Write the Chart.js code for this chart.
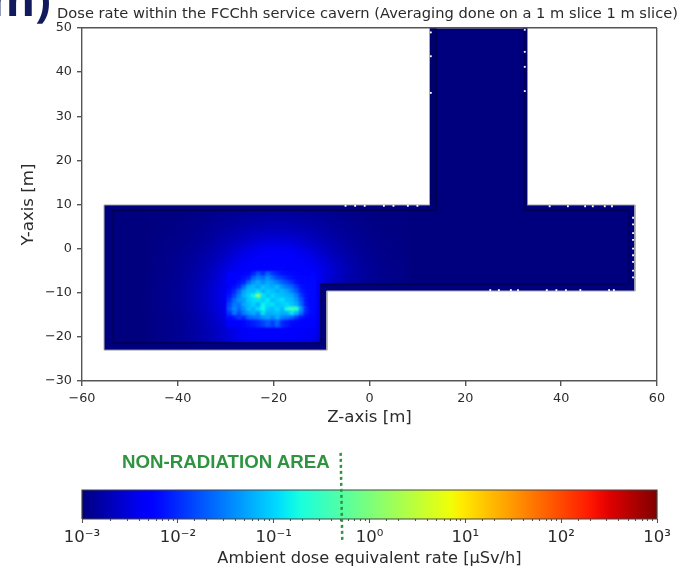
<!DOCTYPE html>
<html>
<head>
<meta charset="utf-8">
<title>Dose rate within the FCChh service cavern</title>
<script src="https://cdn.jsdelivr.net/npm/chart.js@4"></script>
<style>
  html, body { margin: 0; padding: 0; background: #fff; width: 689px; height: 571px; overflow: hidden; }
  #wrap { position: relative; width: 689px; height: 571px; overflow: hidden; }
  canvas, #wrap div { filter: blur(0.4px); }
  #doseChart { position: absolute; left: 0; top: 0; }
  #barChart { position: absolute; left: 0; top: 440px; }
  #slideTitle { position: absolute; left: -10px; top: -33px; font: bold 46px "Open Sans", sans-serif; color: #101a5c; white-space: nowrap; }
  #plotTitle { position: absolute; left: 0; width: 735px; top: 4px; text-align: center; font: 14.65px "DejaVu Sans", sans-serif; color: #2b2b2b; white-space: nowrap; }
  #areaLabel { position: absolute; left: 122px; top: 451px; font: bold 18.7px "Liberation Sans", sans-serif; color: #2f9440; white-space: nowrap; }
</style>
</head>
<body>
<div id="wrap">
  <canvas id="doseChart" width="689" height="431"></canvas>
  <canvas id="barChart" width="689" height="131"></canvas>
  <div id="slideTitle">m)</div>
  <div id="plotTitle">Dose rate within the FCChh service cavern (Averaging done on a 1 m slice 1 m slice)</div>
  <div id="areaLabel">NON-RADIATION AREA</div>
</div>
<script>
var barLabels = ["10\u207B\u00B3", "10\u207B\u00B2", "10\u207B\u00B9", "10\u2070", "10\u00B9", "10\u00B2", "10\u00B3"];

// cavern outline, metres
var outerZ = [-55.4, 12.6, 12.6, 32.9, 32.9, 55.4, 55.4, -8.9, -8.9, -55.4, -55.4];
var outerY = [9.9, 9.9, 50, 50, 9.9, 9.9, -9.6, -9.6, -23, -23, 9.9];
var innerZ = [13.9, 13.9, -53.5, -53.5, -10.1, -10.1, 54.2, 54.2, 32.2, 32.2];
var innerY = [50, 8.7, 8.7, -21.4, -21.4, -8, -8, 8.7, 8.7, 50];
// darker wall strips on the shaft
var shaftLeftZ = [12.6, 13.9, 13.9, 12.6, 12.6];
var shaftLeftY = [50, 50, 9.9, 9.9, 50];
var shaftRightZ = [32.2, 32.9, 32.9, 32.2, 32.2];
var shaftRightY = [50, 50, 9.9, 9.9, 50];

// unscored spots along the walls
var gapZ = [12.8, 12.8, 12.8, 32.4, 32.4, 32.4, 32.4,
  -5, -3, -1, 3, 5, 8, 10, 37.6, 41.4, 45, 46.6, 49.1, 50.6,
  25.2, 27, 29.5, 31, 37, 39, 41, 44, 50, 51,
  55, 55, 55, 55, 55, 55, 55, 55, 55];
var gapY = [49, 43.6, 35.3, 49.6, 44.6, 41.2, 35.7,
  9.7, 9.7, 9.7, 9.7, 9.7, 9.7, 9.7, 9.6, 9.6, 9.6, 9.6, 9.6, 9.6,
  -9.4, -9.4, -9.4, -9.4, -9.4, -9.4, -9.4, -9.4, -9.4, -9.4,
  7, 5.5, 3.5, 2, 0, -1.5, -3, -5, -6.5];

// dose, in hundredths of a decade above 1e-3 uSv/h
// wide glow: 2 m cells
var glowZ = [-44, -42, -40, -38, -36, -34, -32, -30, -28, -26, -24, -22, -20, -18, -16, -14, -12, -10, -8, -6, -4, -2, 0, 2, 4, 6];
var glowY = [8, 6, 4, 2, 0, -2, -4, -6, -8, -10, -12, -14, -16, -18, -20];
var glowRows = [
  [1, 2, 2, 3, 5, 6, 7, 9, 10, 12, 13, 14, 14, 14, 14, 13, 12, 10, 9, 7, 6, 5, 3, 2, 2, 1],
  [2, 2, 3, 5, 6, 8, 10, 12, 14, 16, 18, 19, 20, 20, 19, 18, 16, 14, 12, 10, 8, 6, 5, 3, 2, 2],
  [2, 3, 5, 6, 8, 10, 13, 16, 19, 22, 25, 27, 28, 28, 27, 25, 22, 19, 16, 13, 10, 8, 6, 5, 3, 2],
  [3, 4, 6, 7, 10, 13, 17, 21, 26, 30, 33, 37, 38, 38, 37, 33, 30, 26, 21, 17, 13, 10, 7, 6, 4, 3],
  [3, 5, 7, 9, 12, 16, 21, 27, 33, 39, 46, 52, 55, 55, 52, 46, 39, 33, 27, 21, 16, 12, 9, 7, 5, 3],
  [4, 6, 8, 11, 15, 20, 26, 33, 42, 53, 60, 66, 68, 68, 66, 60, 53, 42, 33, 26, 20, 15, 11, 8, 6, 4],
  [5, 7, 9, 13, 18, 24, 31, 41, 52, 62, 68, 72, 74, 74, 72, 68, 62, 52, 41, 31, 24, 18, 13, 9, 7, 5],
  [5, 7, 10, 14, 20, 27, 37, 48, 60, 68, 74, 78, 80, 80, 78, 74, 68, 60, 48, 37, 27, 20, 14, 10, 7, 5],
  [5, 8, 11, 16, 22, 30, 41, 54, 66, 74, 78, 80, 82, 82, 80, 78, 74],
  [6, 8, 12, 17, 24, 33, 45, 58, 70, 76, 80, 82, 84, 84, 82, 80, 76],
  [6, 8, 12, 17, 24, 33, 46, 60, 72, 78, 80, 84, 84, 84, 84, 80, 78],
  [6, 8, 12, 17, 24, 33, 45, 58, 70, 76, 80, 82, 84, 84, 82, 80, 76],
  [5, 8, 11, 16, 22, 30, 41, 54, 66, 74, 78, 80, 82, 82, 80, 78, 74],
  [5, 7, 10, 14, 20, 27, 37, 48, 60, 68, 74, 78, 80, 80, 78, 74, 68],
  [5, 7, 9, 13, 18, 24, 31, 41, 52, 62, 68, 72, 74, 74, 72, 68, 62]
];

// bright spot under the source: 1 m cells
var spotZ = [-29, -28, -27, -26, -25, -24, -23, -22, -21, -20, -19, -18, -17, -16, -15, -14, -13, -12];
var spotY = [-6, -7, -8, -9, -10, -11, -12, -13, -14, -15, -16, -17];
var spotRows = [
  [66, 70, 74, 78, 80, 98, 125, 102, 135, 108, 95, 85, 82, 80, 78, 76, 76, 76],
  [68, 72, 76, 85, 95, 135, 150, 140, 162, 138, 115, 108, 92, 85, 80, 78, 78, 78],
  [70, 74, 85, 98, 138, 162, 178, 160, 176, 166, 150, 132, 120, 102, 85, 80, 80, 80],
  [72, 85, 100, 140, 178, 185, 170, 192, 180, 176, 188, 160, 145, 132, 108, 85, 80, 80],
  [80, 100, 135, 172, 190, 186, 205, 180, 198, 190, 176, 185, 172, 150, 125, 92, 82, 80],
  [88, 115, 152, 182, 198, 220, 310, 208, 190, 204, 192, 188, 182, 176, 150, 108, 84, 80],
  [100, 138, 162, 168, 195, 205, 210, 198, 215, 188, 198, 210, 190, 185, 162, 125, 85, 80],
  [115, 148, 142, 178, 186, 200, 182, 220, 204, 210, 190, 198, 204, 192, 178, 132, 88, 80],
  [122, 158, 135, 162, 190, 182, 204, 226, 192, 190, 204, 186, 232, 258, 240, 162, 98, 80],
  [100, 148, 118, 150, 166, 178, 160, 210, 176, 182, 188, 176, 182, 210, 182, 138, 92, 80],
  [78, 90, 108, 100, 135, 140, 145, 162, 172, 155, 178, 150, 145, 132, 108, 88, 80, 78],
  [68, 70, 74, 78, 85, 92, 100, 112, 128, 112, 135, 100, 88, 80, 78, 76, 76, 76]
];

// 0.5 uSv/h limit on the colour bar
var limitX = [0.5, 0.52];
var limitY = [2.28, -0.76];
var barX = [1e-3, 1e3, 1e3, 1e-3, 1e-3];
var barY = [0, 0, 1, 1, 0];

function pairs(xs, ys) {
  return xs.map(function(x, i) { return { x: x, y: ys[i] }; });
}

function cells(zs, ys, rows) {
  var out = [];
  rows.forEach(function(row, r) {
    row.forEach(function(n, c) {
      out.push({ x: zs[c], y: ys[r], v: n });
    });
  });
  return out;
}

// matplotlib jet, t from 0 to 1
function ramp(t, pts) {
  for (var i = 1; i < pts.length; i++) {
    if (t <= pts[i][0]) {
      var a = pts[i - 1], b = pts[i];
      return a[1] + (b[1] - a[1]) * (t - a[0]) / (b[0] - a[0]);
    }
  }
  return pts[pts.length - 1][1];
}
function jet(t) {
  var r = ramp(t, [[0, 0], [0.35, 0], [0.66, 1], [0.89, 1], [1, 0.5]]);
  var g = ramp(t, [[0, 0], [0.125, 0], [0.375, 1], [0.64, 1], [0.91, 0], [1, 0]]);
  var b = ramp(t, [[0, 0.5], [0.11, 1], [0.34, 1], [0.65, 0], [1, 0]]);
  return "rgb(" + Math.round(r * 255) + "," + Math.round(g * 255) + "," + Math.round(b * 255) + ")";
}
function cellColor(ctx) {
  return ctx.raw ? jet(ctx.raw.v / 600) : "#00007f";
}
// rect points are squares, side = radius * sqrt(2)
function cellRadius(metres) {
  return function(ctx) {
    var s = ctx.chart.scales.x;
    return (s.getPixelForValue(metres) - s.getPixelForValue(0)) / Math.SQRT2;
  };
}

// soften the cell datasets, the glow stays inside the inner wall line
var softCells = {
  id: "softCells",
  beforeDatasetDraw: function(chart, args) {
    var blur = chart.data.datasets[args.index].softBlur;
    if (!blur) return;
    var ctx = chart.ctx, sx = chart.scales.x, sy = chart.scales.y;
    ctx.save();
    ctx.beginPath();
    innerZ.forEach(function(z, i) {
      ctx.lineTo(sx.getPixelForValue(z), sy.getPixelForValue(innerY[i]));
    });
    ctx.closePath();
    ctx.clip();
    ctx.filter = "blur(" + blur + "px)";
  },
  afterDatasetDraw: function(chart, args) {
    if (chart.data.datasets[args.index].softBlur) chart.ctx.restore();
  }
};

var textColor = "#2b2b2b";
var frameColor = "#555";
var tickFont = { family: "DejaVu Sans", size: 12.8 };

new Chart(document.getElementById("doseChart"), {
  type: "scatter",
  plugins: [softCells],
  data: {
    datasets: [
      { data: pairs(outerZ, outerY), showLine: true, fill: "shape", tension: 0, pointRadius: 0, borderColor: "#a9a9a9", borderWidth: 1, backgroundColor: "#00007f", order: 6 },
      { data: cells(glowZ, glowY, glowRows), softBlur: 4, pointStyle: "rect", pointRadius: cellRadius(3.4), pointBorderWidth: 0, pointBackgroundColor: cellColor, order: 5 },
      { data: cells(spotZ, spotY, spotRows), softBlur: 1, pointStyle: "rect", pointRadius: cellRadius(1.5), pointBorderWidth: 0, pointBackgroundColor: cellColor, order: 4 },
      { data: pairs(shaftLeftZ, shaftLeftY), showLine: true, fill: "shape", tension: 0, pointRadius: 0, borderWidth: 0, backgroundColor: "#00006c", order: 3 },
      { data: pairs(shaftRightZ, shaftRightY), showLine: true, fill: "shape", tension: 0, pointRadius: 0, borderWidth: 0, backgroundColor: "#00006c", order: 3 },
      { data: pairs(innerZ, innerY), showLine: true, fill: false, tension: 0, pointRadius: 0, borderColor: "#00004e", borderWidth: 1.5, order: 2 },
      { data: pairs(gapZ, gapY), pointStyle: "rect", pointRadius: 1.3, pointBorderWidth: 0, pointBackgroundColor: "#fff", order: 1 }
    ]
  },
  options: {
    responsive: false,
    animation: false,
    events: [],
    layout: { autoPadding: false, padding: { left: 15, right: 32, top: 28, bottom: 0 } },
    plugins: {
      legend: { display: false },
      tooltip: { enabled: false },
      title: { display: false }
    },
    scales: {
      x: {
        type: "linear",
        min: -60,
        max: 60,
        afterFit: function(scale) { scale.height = 50; },
        grid: {
          z: 1,
          color: function(c) { return Math.abs(c.tick.value) === 60 ? frameColor : "rgba(0,0,0,0)"; },
          tickColor: frameColor,
          tickLength: 5,
          lineWidth: 1.4
        },
        border: { display: false },
        ticks: {
          stepSize: 20,
          color: textColor,
          font: tickFont,
          padding: 5,
          maxRotation: 0,
          callback: function(v) { return String(v).replace("-", "\u2212"); }
        },
        title: { display: true, text: "Z-axis [m]", color: textColor, font: { family: "DejaVu Sans", size: 16.6 }, padding: { top: 3, bottom: 3 } }
      },
      y: {
        type: "linear",
        min: -30,
        max: 50,
        afterFit: function(scale) { scale.width = 67; },
        grid: {
          z: 1,
          color: function(c) { return (c.tick.value === 50 || c.tick.value === -30) ? frameColor : "rgba(0,0,0,0)"; },
          tickColor: frameColor,
          tickLength: 5,
          lineWidth: 1.4
        },
        border: { display: false },
        ticks: {
          stepSize: 10,
          color: textColor,
          font: tickFont,
          padding: 5,
          callback: function(v) { return String(v).replace("-", "\u2212"); }
        },
        title: { display: true, text: "Y-axis [m]", color: textColor, font: { family: "DejaVu Sans", size: 16.6 }, padding: { top: 4, bottom: 4 } }
      }
    }
  }
});

function barFill(ctx) {
  var area = ctx.chart.chartArea;
  if (!area) return "#00007f";
  var g = ctx.chart.ctx.createLinearGradient(area.left, 0, area.right, 0);
  for (var i = 0; i <= 50; i++) g.addColorStop(i / 50, jet(i / 50));
  return g;
}

new Chart(document.getElementById("barChart"), {
  type: "scatter",
  data: {
    datasets: [
      { data: pairs(limitX, limitY), showLine: true, fill: false, clip: false, pointRadius: 0, borderColor: "#2f9440", borderWidth: 2.5, borderDash: [3, 3], order: 1 },
      { data: pairs(barX, barY), showLine: true, fill: "shape", clip: false, tension: 0, pointRadius: 0, borderColor: "#444", borderWidth: 1.2, backgroundColor: barFill, order: 2 }
    ]
  },
  options: {
    responsive: false,
    animation: false,
    events: [],
    layout: { autoPadding: false, padding: { left: 82, right: 32, top: 50, bottom: 0 } },
    plugins: { legend: { display: false }, tooltip: { enabled: false }, title: { display: false } },
    scales: {
      x: {
        type: "logarithmic",
        min: 1e-3,
        max: 1e3,
        afterFit: function(scale) { scale.height = 52; },
        grid: {
          drawOnChartArea: false,
          tickColor: frameColor,
          tickLength: 4,
          tickWidth: 1.1,
          tickBorderDash: function(c) { return c.tick && c.tick.major ? [] : [2, 9]; }
        },
        border: { display: false },
        ticks: {
          autoSkip: false,
          maxRotation: 0,
          major: { enabled: true },
          color: textColor,
          font: { family: "DejaVu Sans", size: 16.5 },
          padding: 5,
          callback: function(v) {
            var p = Math.round(Math.log10(v));
            return Math.abs(Math.log10(v) - p) < 1e-6 ? barLabels[p + 3] : "";
          }
        },
        title: { display: true, text: "Ambient dose equivalent rate [\u03BCSv/h]", color: textColor, font: { family: "DejaVu Sans", size: 16.2 }, padding: { top: 2, bottom: 2 } }
      },
      y: { type: "linear", min: 0, max: 1, display: false }
    }
  }
});
</script>
</body>
</html>
